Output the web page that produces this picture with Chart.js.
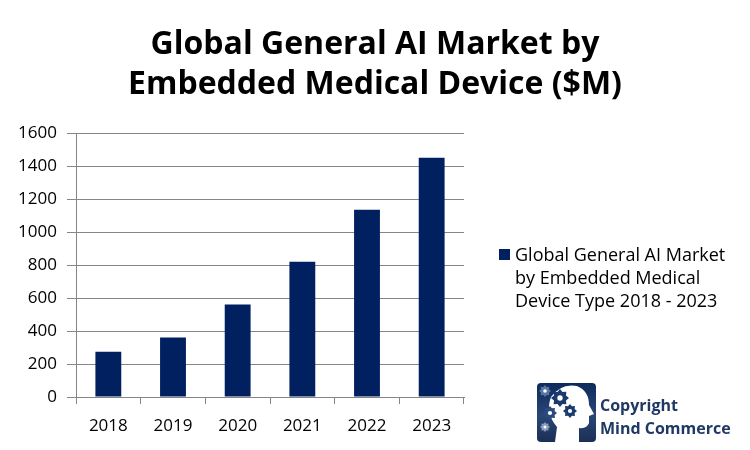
<!DOCTYPE html>
<html>
<head>
<meta charset="utf-8">
<script src="https://cdn.jsdelivr.net/npm/chart.js@4.4.1/dist/chart.umd.min.js"></script>
<style>
html,body{margin:0;padding:0;background:#fff;}
#wrap{position:relative;width:750px;height:450px;}
</style>
</head>
<body>
<div id="wrap"><canvas id="c" width="750" height="450"></canvas></div>
<script>
const titleLines = ["Global General AI Market by", "Embedded Medical Device ($M)"];
const categories = ["2018", "2019", "2020", "2021", "2022", "2023"];
const seriesLabel = "Global General AI Market by Embedded Medical Device Type 2018 - 2023";
const legendLines = ["Global General AI Market", "by Embedded Medical", "Device Type 2018 - 2023"];
const seriesValues = [275, 360, 560, 820, 1135, 1450];
const yTicks = [0, 200, 400, 600, 800, 1000, 1200, 1400, 1600];
const copyrightLines = ["Copyright", "Mind Commerce"];

const NAVY = "#002060";
const GRID = "#868686";
const FONT = "'Open Sans', 'Noto Sans', sans-serif";

const decorPlugin = {
  id: "decor",
  afterDraw(chart) {
    const ctx = chart.ctx;
    ctx.save();
    // title
    ctx.fillStyle = "#000";
    ctx.textAlign = "center";
    ctx.textBaseline = "middle";
    ctx.font = "bold 32px " + FONT;
    titleLines.forEach((t, i) => ctx.fillText(t, 375, 45 + i * 40));
    // legend
    const ds = chart.data.datasets[0];
    ctx.fillStyle = ds.backgroundColor;
    ctx.fillRect(499, 249, 11, 11);
    ctx.fillStyle = "#000";
    ctx.textAlign = "left";
    ctx.font = "18px " + FONT;
    legendLines.forEach((t, i) => ctx.fillText(t, 515, 256 + i * 23));
    // logo
    const lx = 537, ly = 383, lw = 59, lh = 59;
    const g = ctx.createLinearGradient(lx, ly, lx, ly + lh);
    g.addColorStop(0, "#0d2a5c");
    g.addColorStop(0.55, "#2a4677");
    g.addColorStop(1, "#1b2f55");
    ctx.fillStyle = g;
    ctx.beginPath();
    ctx.roundRect(lx, ly, lw, lh, 4);
    ctx.fill();
    // head silhouette
    ctx.fillStyle = "#ffffff";
    ctx.beginPath();
    ctx.moveTo(lx + 18, ly + lh);
    ctx.lineTo(lx + 20, ly + 44);
    ctx.quadraticCurveTo(lx + 8, ly + 30, lx + 14, ly + 14);
    ctx.quadraticCurveTo(lx + 24, ly + 0, lx + 40, ly + 3);
    ctx.quadraticCurveTo(lx + 52, ly + 8, lx + 52, ly + 22);
    ctx.lineTo(lx + 57, ly + 31);
    ctx.lineTo(lx + 52, ly + 33);
    ctx.lineTo(lx + 52, ly + 40);
    ctx.quadraticCurveTo(lx + 50, ly + 46, lx + 42, ly + 45);
    ctx.lineTo(lx + 42, ly + lh);
    ctx.closePath();
    ctx.fill();
    // gears
    const gear = (cx, cy, r, col) => {
      ctx.fillStyle = col;
      ctx.beginPath();
      for (let k = 0; k < 16; k++) {
        const a = k * Math.PI / 8;
        const rr = k % 2 === 0 ? r : r * 0.72;
        ctx.lineTo(cx + rr * Math.cos(a), cy + rr * Math.sin(a));
      }
      ctx.closePath();
      ctx.fill();
      ctx.fillStyle = "#fff";
      ctx.beginPath();
      ctx.arc(cx, cy, r * 0.3, 0, Math.PI * 2);
      ctx.fill();
    };
    gear(lx + 23, ly + 15, 9, "#1b3a6e");
    gear(lx + 13, ly + 30, 7, "#2b4a7e");
    gear(lx + 33, ly + 28, 7, "#1b3a6e");
    gear(lx + 8, ly + 8, 6, "#5c74a0");
    gear(lx + 8, ly + 44, 5, "#8a9cbd");
    // copyright text
    ctx.fillStyle = "#1f3864";
    ctx.font = "bold 16px " + FONT;
    ctx.textAlign = "left";
    copyrightLines.forEach((t, i) => ctx.fillText(t, 600, 406 + i * 23));
    ctx.restore();
  }
};

new Chart(document.getElementById("c"), {
  type: "bar",
  data: {
    labels: categories,
    datasets: [{
      label: seriesLabel,
      data: seriesValues,
      backgroundColor: NAVY,
      borderWidth: 0,
      barPercentage: 0.4,
      categoryPercentage: 1.0
    }]
  },
  options: {
    responsive: false,
    animation: false,
    devicePixelRatio: 1,
    layout: { padding: { top: 133, right: 286, bottom: 0, left: 0 } },
    plugins: {
      legend: { display: false },
      title: { display: false },
      tooltip: { enabled: false }
    },
    scales: {
      x: {
        offset: true,
        grid: {
          offset: true,
          drawOnChartArea: false,
          drawTicks: true,
          tickLength: 7,
          color: GRID
        },
        border: { color: GRID, width: 1 },
        ticks: {
          color: "#000",
          font: { family: FONT, size: 17 },
          padding: 12
        },
        afterFit(scale) { scale.height = 53; }
      },
      y: {
        min: 0,
        max: 1600,
        afterBuildTicks(scale) { scale.ticks = yTicks.map(v => ({ value: v })); },
        grid: {
          color: GRID,
          drawTicks: true,
          tickLength: 9
        },
        border: { color: GRID, width: 1 },
        ticks: {
          color: "#000",
          font: { family: FONT, size: 17 },
          padding: 10,
          callback: (v) => String(v)
        },
        afterFit(scale) { scale.width = 76; }
      }
    }
  },
  plugins: [decorPlugin]
});
</script>
</body>
</html>
